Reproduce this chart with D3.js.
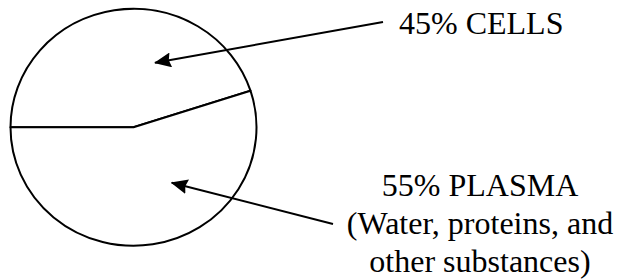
<!DOCTYPE html>
<html>
<head>
<meta charset="utf-8">
<script src="https://cdn.jsdelivr.net/npm/d3@7"></script>
<style>
  body { margin: 0; background: #fff; }
  svg { display: block; }
  text { font-family: "Liberation Serif", "Times New Roman", serif; fill: #000; }
</style>
</head>
<body>
<svg id="chart" width="618" height="279"></svg>
<script>
// blood composition, percent
const categories = ["CELLS", "PLASMA"];
const values = [45, 55];
const labelLines = [
    ["45% CELLS"],
    ["55% PLASMA", "(Water, proteins, and", "other substances)"]
];

const WIDTH = 618, HEIGHT = 279;
const CX = 133.5, CY = 127.3;
const RX = 123, RY = 118.5;

// where each callout sits and where its arrow points
const CALLOUTS = [
    { text: { x: 399, y: 34, anchor: "start" }, from: [383, 22], to: [155, 62.7] },
    { text: { x: 480, y: 196, anchor: "middle" }, from: [333, 224], to: [171.7, 182.7] }
];

const svg = d3.select("#chart");

svg.append("defs").append("marker")
    .attr("id", "arrow")
    .attr("markerUnits", "userSpaceOnUse")
    .attr("viewBox", "0 0 17 15")
    .attr("markerWidth", 17)
    .attr("markerHeight", 15)
    .attr("refX", 16)
    .attr("refY", 7.5)
    .attr("orient", "auto")
    .append("path")
    .attr("d", "M0,0 L17,7.5 L0,15 L2,7.5 Z")
    .attr("fill", "#000");

// pie starts at 9 o'clock and runs clockwise
const pie = d3.pie()
    .sort(null)
    .startAngle(-Math.PI / 2)
    .endAngle(Math.PI * 1.5);

const arc = d3.arc()
    .innerRadius(0)
    .outerRadius(RX);

const g = svg.append("g")
    .attr("transform", `translate(${CX},${CY}) scale(1,${RY / RX})`);

g.selectAll("path.slice")
    .data(pie(values))
    .join("path")
    .attr("class", "slice")
    .attr("d", arc)
    .attr("fill", "#fff")
    .attr("stroke", "#000")
    .attr("stroke-width", 2)
    .attr("stroke-linejoin", "round")
    .attr("vector-effect", "non-scaling-stroke");

// arrows
svg.selectAll("line.callout")
    .data(CALLOUTS)
    .join("line")
    .attr("class", "callout")
    .attr("x1", d => d.from[0])
    .attr("y1", d => d.from[1])
    .attr("x2", d => d.to[0])
    .attr("y2", d => d.to[1])
    .attr("stroke", "#000")
    .attr("stroke-width", 2)
    .attr("marker-end", "url(#arrow)");

// labels
categories.forEach((c, i) => {
    const pos = CALLOUTS[i].text;
    const t = svg.append("text")
        .attr("x", pos.x)
        .attr("y", pos.y)
        .attr("text-anchor", pos.anchor)
        .attr("font-size", 32);
    t.selectAll("tspan")
        .data(labelLines[i])
        .join("tspan")
        .attr("x", pos.x)
        .attr("dy", (d, j) => j === 0 ? 0 : 38)
        .text(d => d);
});
</script>
</body>
</html>
